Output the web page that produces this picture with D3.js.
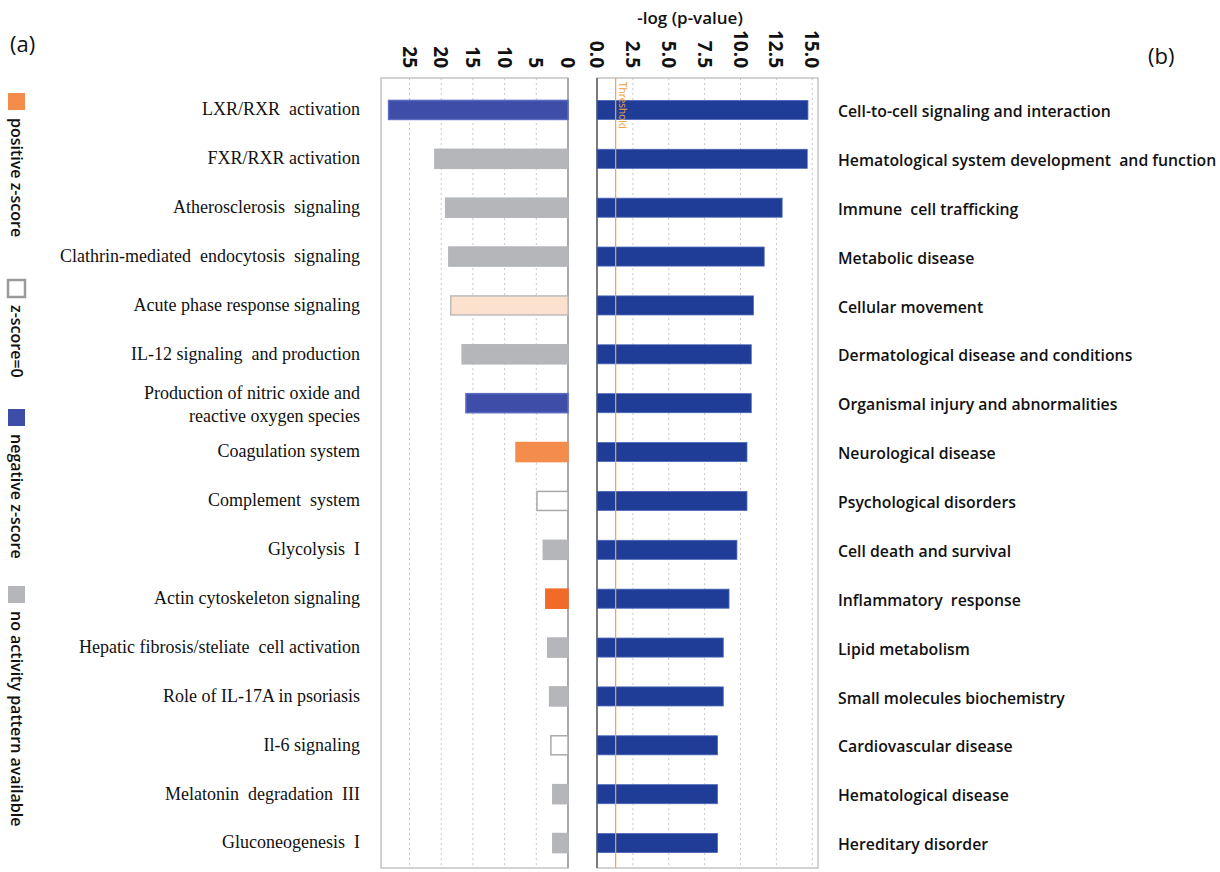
<!DOCTYPE html>
<html>
<head>
<meta charset="utf-8">
<script src="https://cdn.jsdelivr.net/npm/d3@7"></script>
<style>
  body { margin: 0; background: #fff; }
  svg { display: block; }
</style>
</head>
<body>
<div id="chart"></div>
<script>
// canonical pathways (a) and diseases / functions (b)
const pathways = [
  'LXR/RXR  activation', 'FXR/RXR activation', 'Atherosclerosis  signaling',
  'Clathrin-mediated  endocytosis  signaling', 'Acute phase response signaling',
  'IL-12 signaling  and production', 'Production of nitric oxide and|reactive oxygen species',
  'Coagulation system', 'Complement  system', 'Glycolysis  I', 'Actin cytoskeleton signaling',
  'Hepatic fibrosis/steliate  cell activation', 'Role of IL-17A in psoriasis', 'Il-6 signaling',
  'Melatonin  degradation  III', 'Gluconeogenesis  I'
];
const pathwayValues = [28.3, 21.0, 19.3, 18.8, 18.5, 16.7, 16.1, 8.2, 4.9, 3.9, 3.5, 3.2, 2.9, 2.7, 2.4, 2.4];
const pathwayZ = ['neg', 'none', 'none', 'none', 'posWeak', 'none', 'neg', 'pos', 'zero', 'none',
  'posStrong', 'none', 'none', 'zero', 'none', 'none'];

const functions = [
  'Cell-to-cell signaling and interaction', 'Hematological system development  and function',
  'Immune  cell trafficking', 'Metabolic disease', 'Cellular movement',
  'Dermatological disease and conditions', 'Organismal injury and abnormalities',
  'Neurological disease', 'Psychological disorders', 'Cell death and survival',
  'Inflammatory  response', 'Lipid metabolism', 'Small molecules biochemistry',
  'Cardiovascular disease', 'Hematological disease', 'Hereditary disorder'
];
const functionValues = [14.7, 14.65, 12.9, 11.65, 10.9, 10.75, 10.75, 10.45, 10.45, 9.75, 9.2, 8.8, 8.8, 8.4, 8.4, 8.4];

const leftTicks = [25, 20, 15, 10, 5, 0];
const rightTicks = [0, 2.5, 5, 7.5, 10, 12.5, 15];
const threshold = 1.3;

const legendItems = [
  { key: 'pos', label: 'positive z-score' },
  { key: 'zero', label: 'z-score=0' },
  { key: 'neg', label: 'negative z-score' },
  { key: 'none', label: 'no activity pattern available' }
];

const fills = { neg: '#3e4ea8', none: '#b4b6ba', pos: '#f48c4c', posStrong: '#f26a27', posWeak: '#fde1cf', zero: '#fff' };
const strokes = { neg: '#5b6bbf', none: '#b4b6ba', pos: '#f48c4c', posStrong: '#f26a27', posWeak: '#bbbbbb', zero: '#a9a9a9' };

const W = 1220, H = 872;
const yTop = 78, yBottom = 868;

const svg = d3.select('#chart').append('svg')
  .attr('width', W).attr('height', H)
  .style('font-family', '"Open Sans", sans-serif');

const y = d3.scaleBand()
  .domain(d3.range(16))
  .range([85.5, 867.5])
  .paddingInner(0.61).paddingOuter(0.305);

const xL = d3.scaleLinear().domain([0, 29.5]).range([568, 381]);
const xR = d3.scaleLinear().domain([0, 15.4]).range([597, 818]);

// ---------- grids and frames ----------
function grid(scale, ticks) {
  svg.append('g').selectAll('line')
    .data(ticks.filter(d => d !== 0))
    .join('line')
      .attr('x1', d => scale(d)).attr('x2', d => scale(d))
      .attr('y1', yTop).attr('y2', yBottom)
      .attr('stroke', '#c8c8c8')
      .attr('stroke-dasharray', '2,3');
}
grid(xL, leftTicks);
grid(xR, rightTicks);

// left panel frame
svg.append('rect')
  .attr('x', xL.range()[1]).attr('y', yTop)
  .attr('width', xL.range()[0] - xL.range()[1]).attr('height', yBottom - yTop)
  .attr('fill', 'none').attr('stroke', '#c4c4c4').attr('stroke-width', 1.5);
svg.append('line')
  .attr('x1', xL(0)).attr('x2', xL(0)).attr('y1', yTop).attr('y2', yBottom)
  .attr('stroke', '#9a9a9a').attr('stroke-width', 1.5);

// right panel frame
svg.append('rect')
  .attr('x', xR(0)).attr('y', yTop)
  .attr('width', xR.range()[1] - xR(0)).attr('height', yBottom - yTop)
  .attr('fill', 'none').attr('stroke', '#c4c4c4').attr('stroke-width', 1.5);
svg.append('line')
  .attr('x1', xR(0)).attr('x2', xR(0)).attr('y1', yTop).attr('y2', yBottom)
  .attr('stroke', '#7a7a7a').attr('stroke-width', 2);

// ---------- axes (rotated tick labels) ----------
function axisLabels(scale, ticks, fmt) {
  svg.append('g').selectAll('text')
    .data(ticks)
    .join('text')
      .attr('transform', d => `translate(${scale(d) - 7},68) rotate(90)`)
      .attr('text-anchor', 'end')
      .attr('font-size', 19)
      .attr('font-weight', 700)
      .attr('fill', '#111')
      .text(fmt);
}
axisLabels(xL, leftTicks, d3.format('d'));
axisLabels(xR, rightTicks, d3.format('.1f'));

svg.append('text')
  .attr('x', 690).attr('y', 24)
  .attr('text-anchor', 'middle')
  .attr('font-size', 17).attr('font-weight', 600)
  .attr('fill', '#111')
  .text('-log (p-value)');

// ---------- bars ----------
svg.append('g').selectAll('rect')
  .data(pathwayValues)
  .join('rect')
    .attr('x', d => xL(d))
    .attr('y', (d, i) => y(i))
    .attr('width', d => xL(0) - xL(d))
    .attr('height', y.bandwidth())
    .attr('fill', (d, i) => fills[pathwayZ[i]])
    .attr('stroke', (d, i) => strokes[pathwayZ[i]])
    .attr('stroke-width', 1.5);

svg.append('g').selectAll('rect')
  .data(functionValues)
  .join('rect')
    .attr('x', xR(0))
    .attr('y', (d, i) => y(i))
    .attr('width', d => xR(d) - xR(0))
    .attr('height', y.bandwidth())
    .attr('fill', '#1f3d97')
    .attr('stroke', '#4a67b8')
    .attr('stroke-width', 0.8);

// threshold line
svg.append('line')
  .attr('x1', xR(threshold)).attr('x2', xR(threshold))
  .attr('y1', yTop).attr('y2', yBottom)
  .attr('stroke', '#f5a04a').attr('stroke-width', 1.2);
svg.append('text')
  .attr('transform', `translate(${xR(threshold) + 3},82) rotate(90)`)
  .attr('font-size', 10).attr('fill', '#f0a040')
  .text('Threshold');

// ---------- category labels ----------
const leftLab = svg.append('g').selectAll('text')
  .data(pathways)
  .join('text')
    .attr('x', 360)
    .attr('y', (d, i) => y(i) + y.bandwidth() / 2)
    .attr('text-anchor', 'end')
    .attr('font-family', '"Liberation Serif", "Times New Roman", serif')
    .attr('font-size', 18)
    .attr('fill', '#111')
    .style('white-space', 'pre');
leftLab.each(function (d) {
  const lines = d.split('|');
  const t = d3.select(this);
  lines.forEach((l, k) => {
    t.append('tspan')
      .attr('x', 360)
      .attr('dy', k === 0 ? (lines.length > 1 ? '-0.22em' : '0.3em') : '1.25em')
      .text(l);
  });
});

svg.append('g').selectAll('text')
  .data(functions)
  .join('text')
    .attr('x', 838)
    .attr('y', (d, i) => y(i) + y.bandwidth() / 2)
    .attr('dy', '0.45em')
    .attr('font-size', 15.8)
    .attr('font-weight', 600)
    .attr('fill', '#111')
    .style('white-space', 'pre')
    .text(d => d);

// ---------- panel tags ----------
svg.append('text').attr('x', 10).attr('y', 52)
  .attr('font-size', 22).attr('fill', '#111').text('(a)');
svg.append('text').attr('x', 1148).attr('y', 64)
  .attr('font-size', 22).attr('fill', '#111').text('(b)');

// ---------- legend (vertical) ----------
const legendY = [93, 280, 409, 586];
const legend = svg.append('g');
legendItems.forEach((it, i) => {
  const y0 = legendY[i];
  legend.append('rect')
    .attr('x', 8).attr('y', y0)
    .attr('width', 17).attr('height', 17)
    .attr('fill', it.key === 'zero' ? '#fff' : fills[it.key])
    .attr('stroke', it.key === 'zero' ? '#9a9a9a' : 'none')
    .attr('stroke-width', 2.5);
  legend.append('text')
    .attr('transform', `translate(11,${y0 + 25}) rotate(90)`)
    .attr('font-size', 16)
    .attr('font-weight', 600)
    .attr('fill', '#111')
    .text(it.label);
});
</script>
</body>
</html>
